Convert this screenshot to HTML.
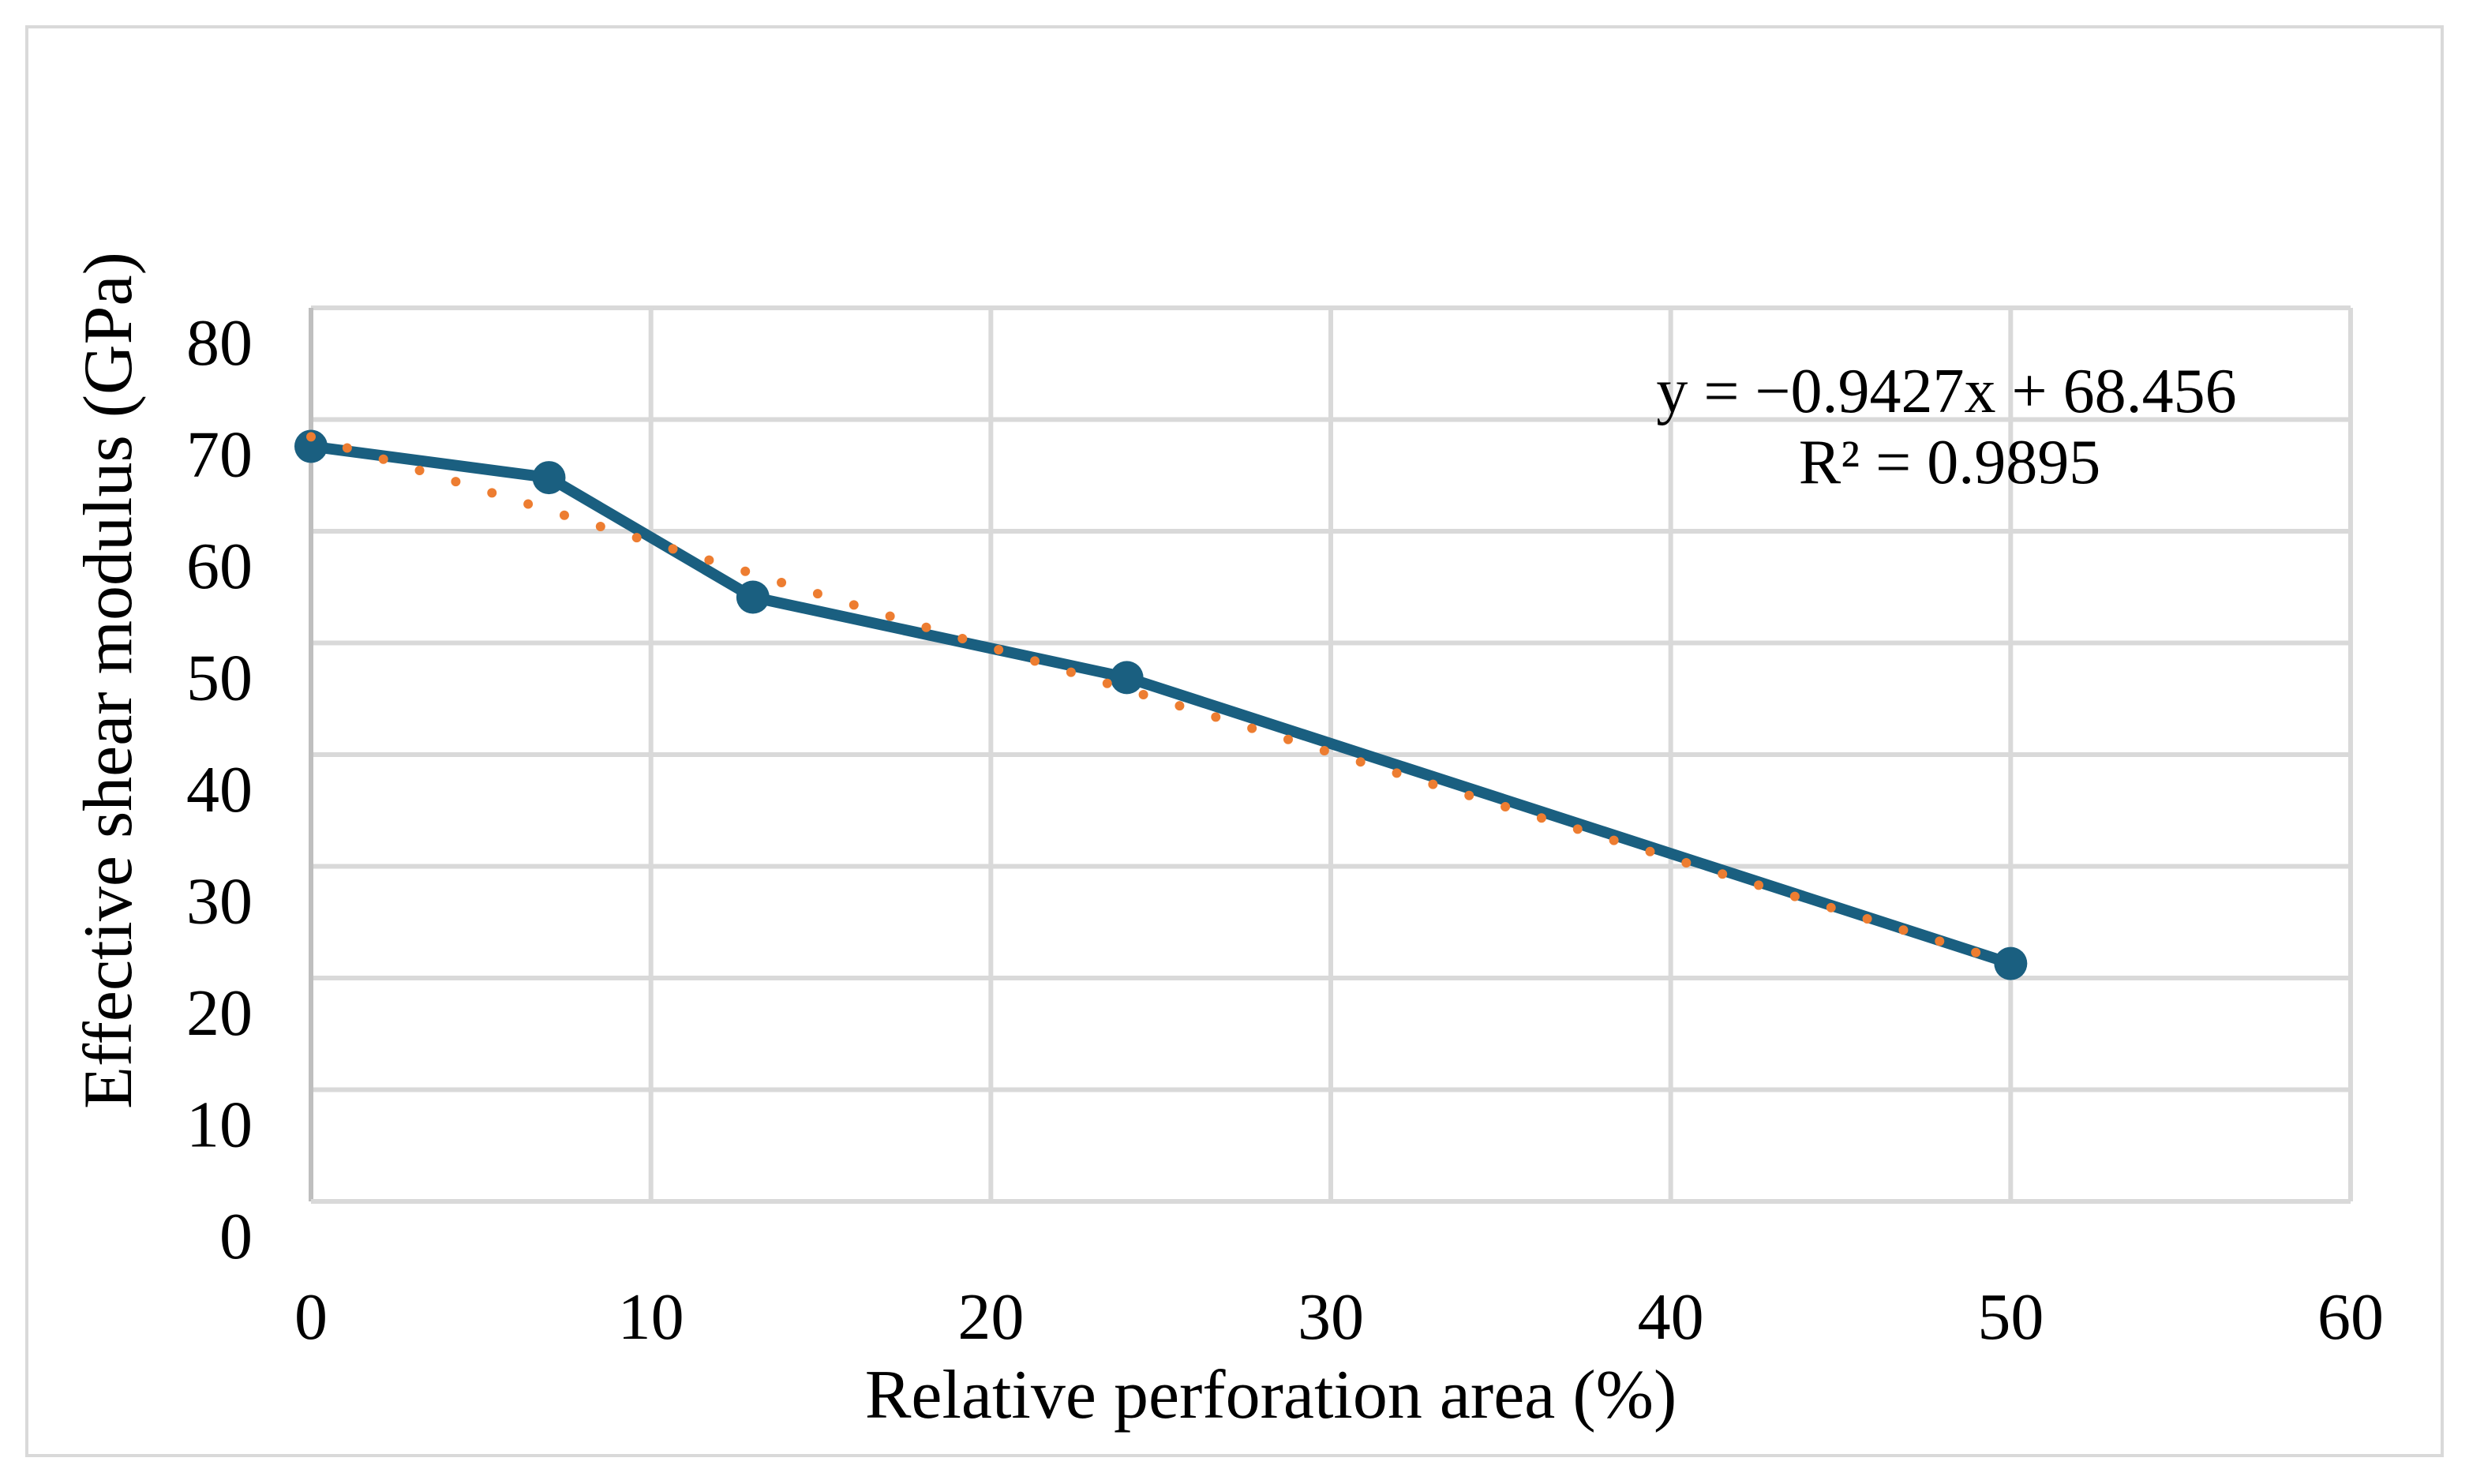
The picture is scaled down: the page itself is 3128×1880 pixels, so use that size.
<!DOCTYPE html>
<html><head><meta charset="utf-8"><style>
html,body{margin:0;padding:0;background:#fff}
svg{display:block}
text{font-family:"Liberation Serif",serif;fill:#000}
</style></head><body>
<svg id="chart" width="3128" height="1880" viewBox="0 0 3128 1880" xmlns="http://www.w3.org/2000/svg">
<rect x="34" y="34" width="3060" height="1810" fill="#fff" stroke="#d9d9d9" stroke-width="4"/>
<g id="grid"></g>
<g id="ticks"></g>
<g id="series"></g>
<text x="1610" y="1796" font-size="88" text-anchor="middle">Relative perforation area (%)</text>
<text transform="translate(166,862) rotate(-90)" font-size="88" text-anchor="middle">Effective shear modulus (GPa)</text>
<text x="2466" y="522" font-size="80" text-anchor="middle">y = −0.9427x + 68.456</text>
<text x="2470" y="612" font-size="80" text-anchor="middle">R² = 0.9895</text>
</svg>
<script>
const xData = [0, 7, 13, 24, 50];
const yData = [67.6, 64.8, 54.1, 46.9, 21.3];
const xTicks = [0, 10, 20, 30, 40, 50, 60];
const yTicks = [0, 10, 20, 30, 40, 50, 60, 70, 80];
const slope = -0.9427;
const intercept = 68.456;

const NS = 'http://www.w3.org/2000/svg';
const X0 = 394, X1 = 2978, Y0 = 1522, Y1 = 390;
function sx(v){ return X0 + (v - 0) / 60 * (X1 - X0); }
function sy(v){ return Y0 - (v - 0) / 80 * (Y0 - Y1); }
function mk(tag, attrs, parent){
  const e = document.createElementNS(NS, tag);
  for (const k in attrs) e.setAttribute(k, attrs[k]);
  parent.appendChild(e);
  return e;
}
const grid = document.getElementById('grid');
const ticks = document.getElementById('ticks');
const series = document.getElementById('series');

yTicks.forEach(t => {
  if (t > 0) {
    const l = mk('line', {x1: X0, x2: X1, y1: sy(t), y2: sy(t), stroke: '#d9d9d9', 'stroke-width': 6}, grid);
    
    
  }
  const tx = mk('text', {x: 320, y: sy(t) + 72, 'font-size': 84, 'text-anchor': 'end'}, ticks);
  tx.textContent = t;
  
  
});
xTicks.forEach(t => {
  if (t > 0) {
    const l = mk('line', {x1: sx(t), x2: sx(t), y1: Y1, y2: Y0, stroke: '#d9d9d9', 'stroke-width': 6}, grid);
    
    
  }
  const tx = mk('text', {x: sx(t), y: 1696, 'font-size': 84, 'text-anchor': 'middle'}, ticks);
  tx.textContent = t;
  
  
});
const ax = mk('line', {x1: X0, x2: X0, y1: Y1, y2: Y0, stroke: '#bfbfbf', 'stroke-width': 6}, grid);


const bx = mk('line', {x1: X0, x2: X1, y1: Y0, y2: Y0, stroke: '#d9d9d9', 'stroke-width': 6}, grid);



const pts = xData.map((x, i) => sx(x) + ',' + sy(yData[i])).join(' ');
const pl = mk('polyline', {points: pts, fill: 'none', stroke: '#1a5f80', 'stroke-width': 14, 'stroke-linejoin': 'round'}, series);


xData.forEach((x, i) => {
  const c = mk('circle', {cx: sx(x), cy: sy(yData[i]), r: 21, fill: '#1a5f80'}, series);
  
  
});

const tl = mk('line', {x1: sx(0), y1: sy(intercept), x2: sx(50), y2: sy(intercept + slope * 50), stroke: '#ed7d31', 'stroke-width': 12, 'stroke-linecap': 'round', 'stroke-dasharray': '0 48'}, series);


</script>
</body></html>
